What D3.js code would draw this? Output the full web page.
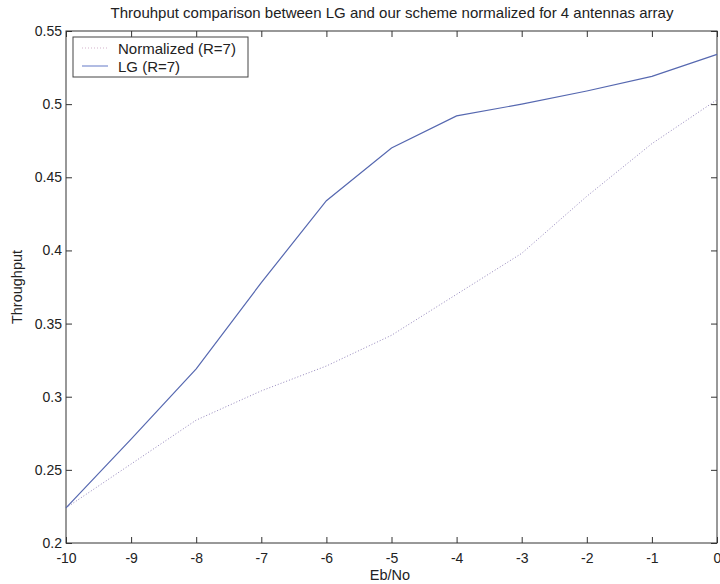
<!DOCTYPE html>
<html>
<head>
<meta charset="utf-8">
<script src="https://cdn.jsdelivr.net/npm/d3@7"></script>
<style>
  body { margin: 0; background: #fff; }
  svg { display: block; font-family: "Liberation Sans", Arial, sans-serif; }
  .axis text { font-size: 14px; fill: #222; }
  .axis path, .axis line { stroke: #333; }
</style>
</head>
<body>
<svg id="chart" width="720" height="584"></svg>
<script>
// Eb/No values (x axis)
const ebno = [-10, -9, -8, -7, -6, -5, -4, -3, -2, -1, 0];
// throughput series
const lgR7 = [0.224, 0.271, 0.319, 0.378, 0.434, 0.470, 0.492, 0.500, 0.509, 0.519, 0.534];
const normR7 = [0.224, 0.254, 0.284, 0.304, 0.321, 0.342, 0.370, 0.398, 0.437, 0.473, 0.503];
const xTicks = [-10, -9, -8, -7, -6, -5, -4, -3, -2, -1, 0];
const yTicks = [0.2, 0.25, 0.3, 0.35, 0.4, 0.45, 0.5, 0.55];

const svg = d3.select("#chart");
const m = { left: 66, right: 3, top: 31, bottom: 41 };
const W = 720, H = 584;
const x = d3.scaleLinear().domain([-10, 0]).range([m.left, W - m.right]);
const y = d3.scaleLinear().domain([0.2, 0.55]).range([H - m.bottom, m.top]);
const tk = 6;

// box
svg.append("rect")
  .attr("x", x(-10)).attr("y", y(0.55))
  .attr("width", x(0) - x(-10)).attr("height", y(0.2) - y(0.55))
  .attr("fill", "none").attr("stroke", "#333").attr("stroke-width", 1);

// bottom axis (plain hyphen minus like the original)
const gx = svg.append("g").attr("class", "axis")
  .attr("transform", `translate(0,${y(0.2)})`)
  .call(d3.axisBottom(x).tickValues(xTicks).tickSizeInner(-tk).tickSizeOuter(0).tickPadding(10).tickFormat(d => String(d)));
gx.select(".domain").remove();

// top ticks
const gxt = svg.append("g").attr("class", "axis")
  .attr("transform", `translate(0,${y(0.55)})`)
  .call(d3.axisTop(x).tickValues(xTicks).tickSizeInner(-tk).tickSizeOuter(0).tickFormat(""));
gxt.select(".domain").remove();

// left axis
const gy = svg.append("g").attr("class", "axis")
  .attr("transform", `translate(${x(-10)},0)`)
  .call(d3.axisLeft(y).tickValues(yTicks).tickSizeInner(-tk).tickSizeOuter(0).tickPadding(4).tickFormat(d => String(+d.toFixed(2))));
gy.select(".domain").remove();

// right ticks
const gyr = svg.append("g").attr("class", "axis")
  .attr("transform", `translate(${x(0)},0)`)
  .call(d3.axisRight(y).tickValues(yTicks).tickSizeInner(-tk).tickSizeOuter(0).tickFormat(""));
gyr.select(".domain").remove();

// lines
const line = d3.line().x((d, i) => x(ebno[i])).y(d => y(d));

svg.append("path").datum(normR7)
  .attr("d", line)
  .attr("fill", "none")
  .attr("stroke", "#9486bc")
  .attr("stroke-width", 1)
  .attr("stroke-dasharray", "1,2");

svg.append("path").datum(lgR7)
  .attr("d", line)
  .attr("fill", "none")
  .attr("stroke", "#5668b0")
  .attr("stroke-width", 1.2);

// title + labels
svg.append("text")
  .attr("x", 392).attr("y", 18)
  .attr("text-anchor", "middle")
  .style("font-size", "15px").style("fill", "#222")
  .text("Throuhput comparison between LG and our scheme normalized for 4 antennas array");

svg.append("text")
  .attr("x", 390).attr("y", 580)
  .attr("text-anchor", "middle")
  .style("font-size", "14.5px").style("fill", "#222")
  .text("Eb/No");

svg.append("text")
  .attr("transform", "translate(22,287) rotate(-90)")
  .attr("text-anchor", "middle")
  .style("font-size", "14.5px").style("fill", "#222")
  .text("Throughput");

// legend
const lg = svg.append("g");
lg.append("rect")
  .attr("x", 73).attr("y", 37).attr("width", 175).attr("height", 40)
  .attr("fill", "#fff").attr("stroke", "#444").attr("stroke-width", 1);
const items = [
  { label: "Normalized (R=7)", color: "#d4b4cc", dash: "1,2" },
  { label: "LG (R=7)", color: "#7d8fd0", dash: null }
];
items.forEach((it, i) => {
  const yy = 48 + i * 18;
  lg.append("line")
    .attr("x1", 82).attr("x2", 108).attr("y1", yy).attr("y2", yy)
    .attr("stroke", it.color).attr("stroke-width", 1.2)
    .attr("stroke-dasharray", it.dash);
  lg.append("text")
    .attr("x", 118).attr("y", yy + 6)
    .style("font-size", "15px").style("fill", "#222")
    .text(it.label);
});
</script>
</body>
</html>
